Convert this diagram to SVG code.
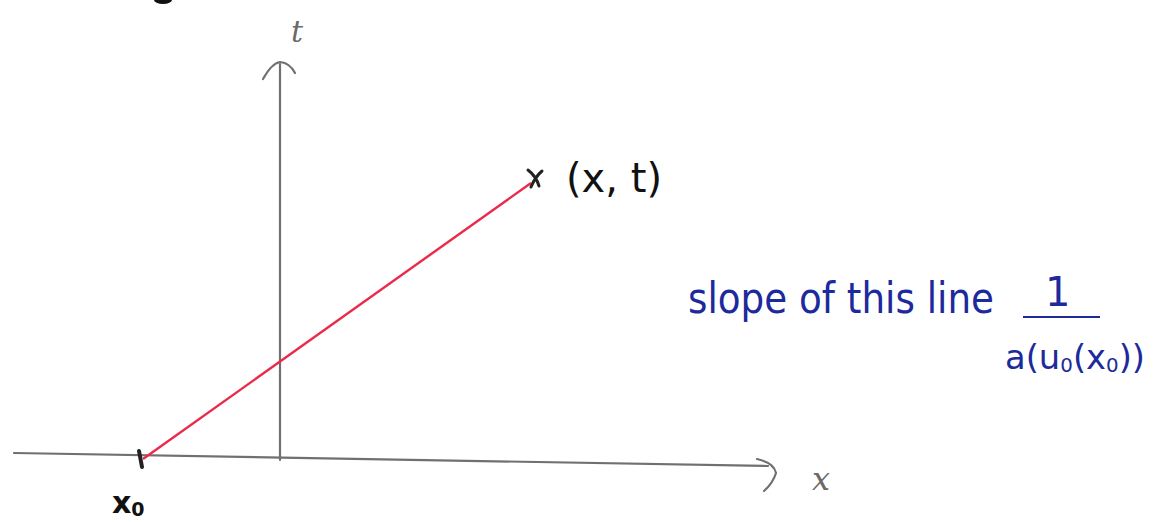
<svg xmlns="http://www.w3.org/2000/svg" width="1159" height="522" viewBox="0 0 1159 522">
<style>
.axis{stroke:#707070;stroke-width:2.2;fill:none;stroke-linecap:round}
.pen{stroke:#222;fill:none;stroke-linecap:round}
.gray{fill:#6a6a6a;font-family:"DejaVu Serif",serif;font-style:italic}
.black{fill:#111;font-family:"DejaVu Sans",sans-serif}
.blue{fill:#1c2a9c;font-family:"DejaVu Sans",sans-serif}
</style>
<rect width="1159" height="522" fill="#fff"/>
<ellipse cx="163" cy="0" rx="9" ry="4" fill="#111"/>
<g id="connectors">
  <g id="t-axis">
    <path class="axis" d="M280 460 L280 64"/>
    <path class="axis" d="M263 79 Q272 63 280 62 Q290 63 295 73"/>
  </g>
  <g id="x-axis">
    <path class="axis" d="M14 453 L768 466"/>
    <path class="axis" d="M757 459 Q774 463 776 473 Q773 483 764 491"/>
  </g>
  <g id="red-line">
    <path d="M143 459 L531 183" stroke="#ea2a4a" stroke-width="2.4" fill="none"/>
  </g>
</g>
<g id="tick-x0">
  <path class="pen" d="M139 451 L142 467" stroke-width="4"/>
</g>
<g id="point">
  <path class="pen" d="M528 170 Q536 176 539 186 M542 171 Q535 177 531 187" stroke-width="3"/>
</g>
<g id="label-t"><text class="gray" x="291" y="42" font-size="30">t</text></g>
<g id="label-x"><text class="gray" x="812" y="490" font-size="32">x</text></g>
<g id="label-xt"><text class="black" x="566" y="192" font-size="40" textLength="96" lengthAdjust="spacingAndGlyphs">(x, t)</text></g>
<g id="label-x0"><text class="black" x="112" y="513" font-size="30" font-weight="bold">x<tspan font-size="19" dy="3">0</tspan></text></g>
<g id="slope-note">
  <text class="blue" x="688" y="313" font-size="42" textLength="306" lengthAdjust="spacingAndGlyphs">slope of this line</text>
  <text class="blue" x="1045" y="306" font-size="40">1</text>
  <path d="M1023 317 L1100 317" stroke="#1c2a9c" stroke-width="2.2" fill="none"/>
  <text class="blue" x="1005" y="369" font-size="34" textLength="140" lengthAdjust="spacingAndGlyphs">a(u<tspan font-size="20" dy="3">0</tspan><tspan dy="-3">(x</tspan><tspan font-size="20" dy="3">0</tspan><tspan dy="-3">))</tspan></text>
</g>
</svg>
